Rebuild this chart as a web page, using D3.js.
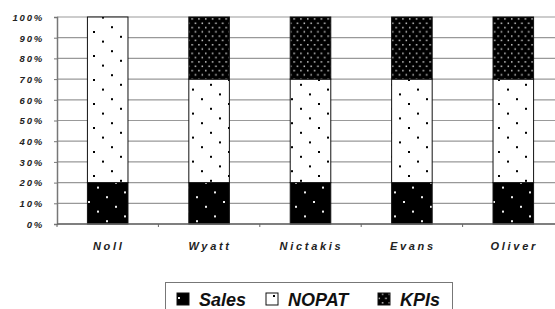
<!DOCTYPE html>
<html lang="en">
<head>
<meta charset="UTF-8">
<title>Chart</title>
<script src="https://cdn.jsdelivr.net/npm/d3@7"></script>
<style>
    body { margin: 0; background: #fff; }
    .ylab { font-family: "Liberation Sans", Arial, sans-serif; font-size: 9.5px; font-weight: bold; font-style: italic; fill: #222; letter-spacing: 1.8px; }
    .xlab { font-family: "Liberation Sans", Arial, sans-serif; font-size: 11px; font-weight: bold; font-style: italic; fill: #222; letter-spacing: 2.7px; }
    .leg { font-family: "Liberation Sans", Arial, sans-serif; font-size: 18px; font-weight: bold; font-style: italic; fill: #111; }
</style>
</head>
<body>
<script>
    var people = ["Noll", "Wyatt", "Nictakis", "Evans", "Oliver"];
    var sales = [0.20, 0.20, 0.20, 0.20, 0.20];
    var nopat = [0.80, 0.50, 0.50, 0.50, 0.50];
    var kpis  = [0.00, 0.30, 0.30, 0.30, 0.30];
    var seriesNames = ["Sales", "NOPAT", "KPIs"];
    var yTicks = [0, 0.1, 0.2, 0.3, 0.4, 0.5, 0.6, 0.7, 0.8, 0.9, 1.0];

    var W = 555, H = 309;
    var svg = d3.select("body").append("svg").attr("width", W).attr("height", H);

    // fill patterns: sparse dot lattice for Sales / NOPAT, dense dots for KPIs
    var defs = svg.append("defs");
    function dotPattern(id, bg, dot, ox, oy) {
        var p = defs.append("pattern").attr("id", id).attr("patternUnits", "userSpaceOnUse")
            .attr("width", 45).attr("height", 24).attr("x", ox).attr("y", oy);
        p.append("rect").attr("width", 45).attr("height", 24).attr("fill", bg);
        [0, 1, 2, 3, 4].forEach(function(m) {
            var px = m * 9, py = (m * 9.6) % 24;
            p.append("rect").attr("x", px).attr("y", py).attr("width", 2).attr("height", 2).attr("fill", dot);
            if (py > 22) p.append("rect").attr("x", px).attr("y", py - 24).attr("width", 2).attr("height", 2).attr("fill", dot);
        });
    }
    dotPattern("pSales", "#000", "#eee", 88, 201);
    dotPattern("pNopat", "#fff", "#000", 93, 31);
    var pKpi = defs.append("pattern").attr("id", "pKpi").attr("patternUnits", "userSpaceOnUse")
        .attr("width", 6.8).attr("height", 8.6);
    pKpi.append("rect").attr("width", 6.8).attr("height", 8.6).attr("fill", "#000");
    [[1, 1], [4.4, 5.3]].forEach(function(p) {
        pKpi.append("rect").attr("x", p[0]).attr("y", p[1]).attr("width", 1.5).attr("height", 1.5).attr("fill", "#ccc");
    });
    var fills = ["url(#pSales)", "url(#pNopat)", "url(#pKpi)"];

    var x = d3.scaleBand().domain(people).range([57, 564]).paddingInner(0.6).paddingOuter(0.3);
    var y = d3.scaleLinear().domain([0, 1]).range([224, 17]);

    // gridlines
    svg.append("g").selectAll("line").data(yTicks).enter().append("line")
        .attr("x1", 57).attr("x2", W)
        .attr("y1", d => y(d)).attr("y2", d => y(d))
        .attr("stroke", "#999").attr("stroke-width", 1.2);

    // y axis
    var yAxis = d3.axisLeft(y).tickValues(yTicks).tickSize(3).tickFormat(d3.format(".0%"));
    var gy = svg.append("g").attr("transform", "translate(57,0)").call(yAxis);
    gy.select(".domain").attr("stroke", "#777").attr("stroke-width", 1.5);
    gy.selectAll(".tick line").attr("stroke", "#777");
    gy.selectAll(".tick text").attr("class", "ylab").attr("x", -13).attr("dy", "0.35em").attr("font-family", null).attr("font-size", null);

    // stacked bars
    var rows = people.map(function(p, i) { return { name: p, Sales: sales[i], NOPAT: nopat[i], KPIs: kpis[i] }; });
    var stack = d3.stack().keys(seriesNames)(rows);
    svg.append("g").selectAll("g").data(stack).enter().append("g")
        .attr("fill", (d, i) => fills[i])
        .selectAll("rect").data(d => d.filter(v => v[1] - v[0] > 0)).enter().append("rect")
        .attr("x", d => x(d.data.name))
        .attr("width", x.bandwidth())
        .attr("y", d => y(d[1]))
        .attr("height", d => y(d[0]) - y(d[1]))
        .attr("stroke", "#111").attr("stroke-width", 1);

    // x axis line and ticks between categories
    svg.append("line").attr("x1", 57).attr("x2", W).attr("y1", y(0)).attr("y2", y(0))
        .attr("stroke", "#666").attr("stroke-width", 1.5);
    svg.append("g").selectAll("line").data(people).enter().append("line")
        .attr("x1", d => x(d) - x.step() * 0.3).attr("x2", d => x(d) - x.step() * 0.3)
        .attr("y1", y(0)).attr("y2", y(0) + 3)
        .attr("stroke", "#666");

    // category labels
    svg.append("g").selectAll("text").data(people).enter().append("text")
        .attr("class", "xlab")
        .attr("x", d => x(d) + x.bandwidth() / 2 + 1)
        .attr("y", 250)
        .attr("text-anchor", "middle")
        .text(d => d);

    // legend
    var leg = svg.append("g");
    leg.append("rect").attr("x", 165.5).attr("y", 282.5).attr("width", 287).attr("height", 40)
        .attr("fill", "#fff").attr("stroke", "#777").attr("stroke-width", 1);
    var legX = [177, 266, 378];
    var legPat = ["url(#pSales)", "url(#pNopat)", "url(#pKpi)"];
    seriesNames.forEach(function(s, i) {
        leg.append("rect").attr("x", legX[i]).attr("y", 293).attr("width", 12).attr("height", 12)
            .attr("fill", legPat[i]).attr("stroke", "#111");
        leg.append("text").attr("class", "leg").attr("x", legX[i] + 22).attr("y", 306).text(s);
    });
</script>
</body>
</html>
